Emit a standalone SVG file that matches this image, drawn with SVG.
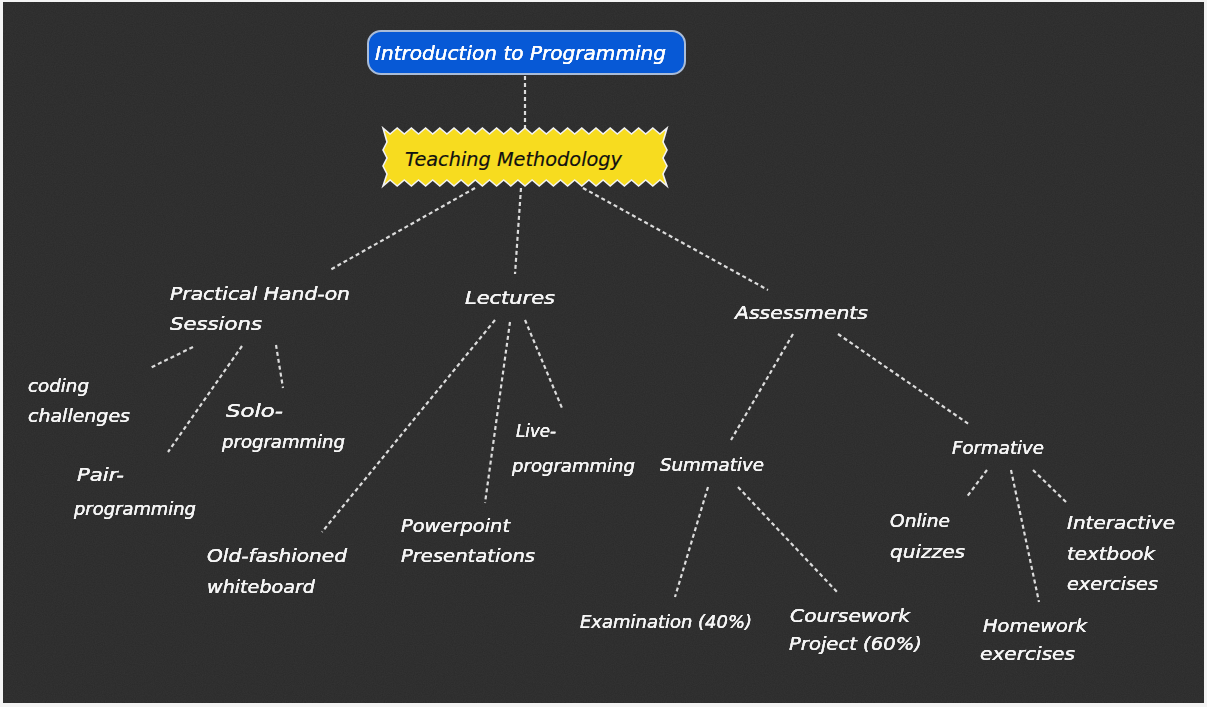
<svg xmlns="http://www.w3.org/2000/svg" width="1207" height="707" viewBox="0 0 1207 707">
  <defs>
    <filter id="chalkNoise" x="0" y="0" width="100%" height="100%">
      <feTurbulence type="fractalNoise" baseFrequency="0.9" numOctaves="2" seed="7" result="n"/>
      <feColorMatrix in="n" type="matrix" values="0 0 0 0 0.5  0 0 0 0 0.5  0 0 0 0 0.5  0 0 0 0.07 0"/>
    </filter>
    <filter id="chalkGlow" x="-5%" y="-20%" width="110%" height="140%">
      <feGaussianBlur stdDeviation="0.6" result="b"/>
      <feMerge><feMergeNode in="b"/><feMergeNode in="SourceGraphic"/></feMerge>
    </filter>
    <style>
      .board { fill: #2a2a2a; }
      .link { stroke: #ececec; stroke-width: 2.2; stroke-dasharray: 4 3; fill: none; opacity: 0.92; }
      .lbl { font-family: "DejaVu Sans", "Liberation Sans", sans-serif; font-style: italic; font-size: 17px; fill: #f6f6f6; stroke: #f6f6f6; stroke-width: 0.15; }
      .root-txt { font-family: "DejaVu Sans", "Liberation Sans", sans-serif; font-style: italic; font-size: 19px; fill: #ffffff; stroke: #ffffff; stroke-width: 0.15; }
      .main-txt { font-family: "DejaVu Sans", "Liberation Sans", sans-serif; font-style: italic; font-size: 20px; fill: #111111; stroke: #111111; stroke-width: 0.2; }
    </style>
  </defs>

  <!-- chalkboard -->
  <rect x="0" y="0" width="1207" height="707" fill="#f4f4f4"/>
  <rect class="board" x="3" y="2" width="1201" height="701"/>
  <rect x="3" y="2" width="1201" height="701" filter="url(#chalkNoise)"/>

  <!-- connectors -->
  <g id="connectors">
    <line class="link" x1="525" y1="76" x2="525" y2="128"/>
    <line class="link" x1="475" y1="188" x2="330" y2="270"/>
    <line class="link" x1="521" y1="188" x2="515" y2="274"/>
    <line class="link" x1="583" y1="188" x2="768" y2="290"/>
    <line class="link" x1="193" y1="347" x2="150" y2="368"/>
    <line class="link" x1="242" y1="346" x2="168" y2="452"/>
    <line class="link" x1="276" y1="345" x2="283" y2="388"/>
    <line class="link" x1="495" y1="320" x2="322" y2="532"/>
    <line class="link" x1="510" y1="322" x2="485" y2="503"/>
    <line class="link" x1="525" y1="320" x2="562" y2="408"/>
    <line class="link" x1="793" y1="334" x2="731" y2="440"/>
    <line class="link" x1="838" y1="334" x2="970" y2="425"/>
    <line class="link" x1="708" y1="487" x2="675" y2="597"/>
    <line class="link" x1="738" y1="487" x2="838" y2="593"/>
    <line class="link" x1="987" y1="470" x2="966" y2="498"/>
    <line class="link" x1="1011" y1="470" x2="1039" y2="602"/>
    <line class="link" x1="1033" y1="470" x2="1067" y2="503"/>
  </g>

  <g id="node-root">
    <rect x="368" y="31" width="317" height="43" rx="13" fill="#0759d6" stroke="#a9bcd8" stroke-width="2"/>
    <text class="root-txt" x="375" y="60" textLength="291" lengthAdjust="spacingAndGlyphs" filter="url(#chalkGlow)">Introduction to Programming</text>
  </g>

  <g id="node-teaching">
    <path d="M383,128 l7.1,6 l7.1,-6 l7.1,6 l7.1,-6 l7.1,6 l7.1,-6 l7.1,6 l7.1,-6 l7.1,6 l7.1,-6 l7.1,6 l7.1,-6 l7.1,6 l7.1,-6 l7.1,6 l7.1,-6 l7.1,6 l7.1,-6 l7.1,6 l7.1,-6 l7.1,6 l7.1,-6 l7.1,6 l7.1,-6 l7.1,6 l7.1,-6 l7.1,6 l7.1,-6 l7.1,6 l7.1,-6 l7.1,6 l7.1,-6 l7.1,6 l7.1,-6 l7.1,6 l7.1,-6 l7.1,6 l7.1,-6 l7.1,6 l7.1,-6 L663,142 L667,150 L663,158 L667,166 L663,174 L667,186 l-7.1,-6 l-7.1,6 l-7.1,-6 l-7.1,6 l-7.1,-6 l-7.1,6 l-7.1,-6 l-7.1,6 l-7.1,-6 l-7.1,6 l-7.1,-6 l-7.1,6 l-7.1,-6 l-7.1,6 l-7.1,-6 l-7.1,6 l-7.1,-6 l-7.1,6 l-7.1,-6 l-7.1,6 l-7.1,-6 l-7.1,6 l-7.1,-6 l-7.1,6 l-7.1,-6 l-7.1,6 l-7.1,-6 l-7.1,6 l-7.1,-6 l-7.1,6 l-7.1,-6 l-7.1,6 l-7.1,-6 l-7.1,6 l-7.1,-6 l-7.1,6 l-7.1,-6 l-7.1,6 l-7.1,-6 l-7.1,6 L387,174 L383,166 L387,158 L383,150 L387,142 Z" fill="#f7dc1f" stroke="#f2f2f2" stroke-width="1.6" stroke-linejoin="miter"/>
    <text class="main-txt" x="405" y="166" textLength="217" lengthAdjust="spacingAndGlyphs">Teaching Methodology</text>
  </g>

  <g id="node-practical" filter="url(#chalkGlow)">
    <text class="lbl" x="170" y="300" textLength="180" lengthAdjust="spacingAndGlyphs">Practical Hand-on</text>
    <text class="lbl" x="170" y="330" textLength="92" lengthAdjust="spacingAndGlyphs">Sessions</text>
  </g>
  <g id="node-lectures" filter="url(#chalkGlow)">
    <text class="lbl" x="465" y="304" textLength="90" lengthAdjust="spacingAndGlyphs">Lectures</text>
  </g>
  <g id="node-assessments" filter="url(#chalkGlow)">
    <text class="lbl" x="735" y="319" textLength="133" lengthAdjust="spacingAndGlyphs">Assessments</text>
  </g>

  <g id="node-coding" filter="url(#chalkGlow)">
    <text class="lbl" x="28" y="392" textLength="61" lengthAdjust="spacingAndGlyphs">coding</text>
    <text class="lbl" x="28" y="422" textLength="102" lengthAdjust="spacingAndGlyphs">challenges</text>
  </g>
  <g id="node-pair" filter="url(#chalkGlow)">
    <text class="lbl" x="77" y="481" textLength="47" lengthAdjust="spacingAndGlyphs">Pair-</text>
    <text class="lbl" x="74" y="515" textLength="122" lengthAdjust="spacingAndGlyphs">programming</text>
  </g>
  <g id="node-solo" filter="url(#chalkGlow)">
    <text class="lbl" x="226" y="417" textLength="57" lengthAdjust="spacingAndGlyphs">Solo-</text>
    <text class="lbl" x="222" y="448" textLength="123" lengthAdjust="spacingAndGlyphs">programming</text>
  </g>

  <g id="node-whiteboard" filter="url(#chalkGlow)">
    <text class="lbl" x="207" y="562" textLength="140" lengthAdjust="spacingAndGlyphs">Old-fashioned</text>
    <text class="lbl" x="207" y="593" textLength="108" lengthAdjust="spacingAndGlyphs">whiteboard</text>
  </g>
  <g id="node-powerpoint" filter="url(#chalkGlow)">
    <text class="lbl" x="401" y="532" textLength="109" lengthAdjust="spacingAndGlyphs">Powerpoint</text>
    <text class="lbl" x="401" y="562" textLength="134" lengthAdjust="spacingAndGlyphs">Presentations</text>
  </g>
  <g id="node-live" filter="url(#chalkGlow)">
    <text class="lbl" x="516" y="437" textLength="40" lengthAdjust="spacingAndGlyphs">Live-</text>
    <text class="lbl" x="512" y="472" textLength="123" lengthAdjust="spacingAndGlyphs">programming</text>
  </g>

  <g id="node-summative" filter="url(#chalkGlow)">
    <text class="lbl" x="660" y="471" textLength="104" lengthAdjust="spacingAndGlyphs">Summative</text>
  </g>
  <g id="node-formative" filter="url(#chalkGlow)">
    <text class="lbl" x="952" y="454" textLength="92" lengthAdjust="spacingAndGlyphs">Formative</text>
  </g>

  <g id="node-exam" filter="url(#chalkGlow)">
    <text class="lbl" x="580" y="628" textLength="172" lengthAdjust="spacingAndGlyphs">Examination (40%)</text>
  </g>
  <g id="node-coursework" filter="url(#chalkGlow)">
    <text class="lbl" x="790" y="622" textLength="120" lengthAdjust="spacingAndGlyphs">Coursework</text>
    <text class="lbl" x="789" y="650" textLength="133" lengthAdjust="spacingAndGlyphs">Project (60%)</text>
  </g>

  <g id="node-quizzes" filter="url(#chalkGlow)">
    <text class="lbl" x="890" y="527" textLength="60" lengthAdjust="spacingAndGlyphs">Online</text>
    <text class="lbl" x="890" y="558" textLength="75" lengthAdjust="spacingAndGlyphs">quizzes</text>
  </g>
  <g id="node-homework" filter="url(#chalkGlow)">
    <text class="lbl" x="983" y="632" textLength="104" lengthAdjust="spacingAndGlyphs">Homework</text>
    <text class="lbl" x="980" y="660" textLength="95" lengthAdjust="spacingAndGlyphs">exercises</text>
  </g>
  <g id="node-interactive" filter="url(#chalkGlow)">
    <text class="lbl" x="1067" y="529" textLength="108" lengthAdjust="spacingAndGlyphs">Interactive</text>
    <text class="lbl" x="1067" y="560" textLength="88" lengthAdjust="spacingAndGlyphs">textbook</text>
    <text class="lbl" x="1067" y="590" textLength="91" lengthAdjust="spacingAndGlyphs">exercises</text>
  </g>
</svg>
